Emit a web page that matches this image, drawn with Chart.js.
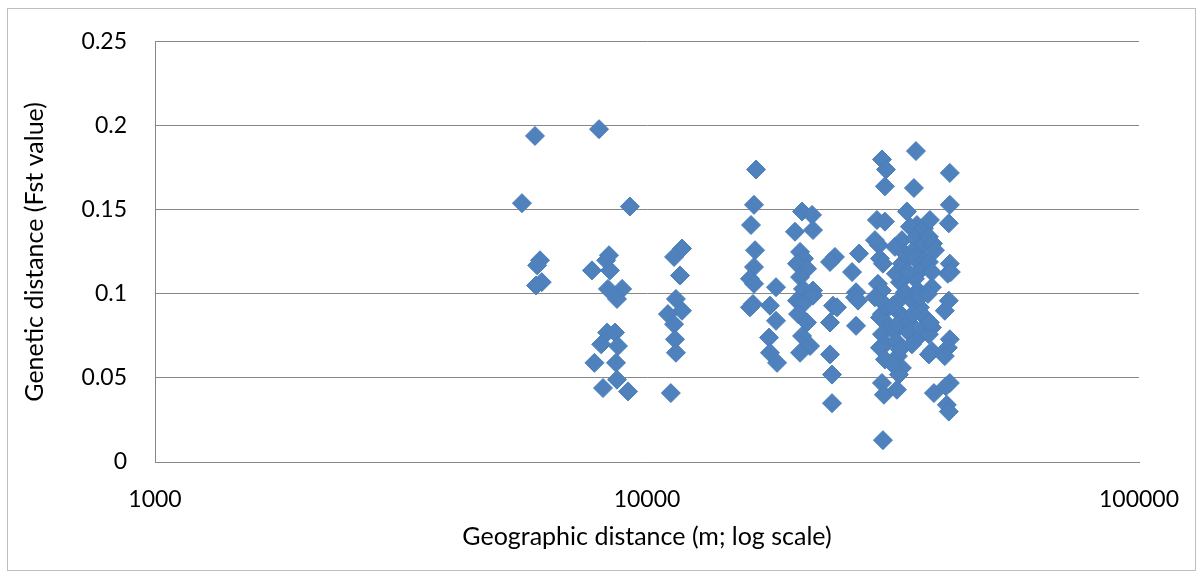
<!DOCTYPE html>
<html>
<head>
<meta charset="utf-8">
<script src="https://cdn.jsdelivr.net/npm/chart.js@4/dist/chart.umd.min.js"></script>
<style>
  html, body { margin: 0; padding: 0; background: #ffffff; }
  canvas { display: block; }
</style>
</head>
<body>
<canvas id="chart" width="1204" height="579"></canvas>
<script>
// Pairwise comparisons: [geographic distance (m), Fst], grouped by distance band
const band5k = [[5570,0.154],[5920,0.194],[6060,0.120],[5980,0.117],[6110,0.107],[5950,0.105]];
const band8k = [[7990,0.198],[9230,0.152],[8370,0.123],[8260,0.120],[7730,0.114],[8410,0.114],
  [8330,0.103],[8900,0.103],[8690,0.097],[8300,0.077],[8610,0.077],[8070,0.070],[8730,0.069],
  [7820,0.059],[8650,0.059],[8690,0.049],[8140,0.044],[9150,0.042]];
const band11k = [[11780,0.127],[11350,0.122],[11670,0.111],[11450,0.097],[11780,0.090],[11030,0.088],
  [11350,0.082],[11400,0.073],[11450,0.065],[11180,0.041]];
const band17k = [[16660,0.174],[16500,0.153],[16270,0.141],[16580,0.126],[16500,0.116],[16190,0.109],
  [16500,0.106],[16190,0.092],[16420,0.094],[18290,0.104],[17780,0.093],[18290,0.084],[17700,0.074],
  [17780,0.065],[18380,0.059]];
const band21k = [[20660,0.149],[21650,0.147],[19990,0.137],[21750,0.138],[20470,0.125],[20850,0.121],
  [20180,0.118],[21150,0.115],[20470,0.110],[20750,0.103],[21750,0.102],[20180,0.096],[21750,0.099],
  [20750,0.094],[20280,0.088],[21150,0.083],[20660,0.075],[21450,0.069],[20470,0.065]];
const band24k = [[24100,0.122],[23550,0.119],[23880,0.093],[24330,0.092],[23550,0.083],[23550,0.064],
  [23770,0.052],[23770,0.035]];
const band27k = [[26980,0.124],[26110,0.113],[26600,0.101],[26480,0.098],[26850,0.096],[26600,0.081]];
const band30k = [[30030,0.180],[30600,0.174],[30450,0.164],[29330,0.144],[30450,0.143],[29610,0.129],
  [29060,0.132],[29750,0.121],[30170,0.118],[29470,0.106],[30030,0.102],[29060,0.098],[30030,0.088],
  [31030,0.081],[30030,0.076],[30450,0.070],[29750,0.068],[30450,0.061],[30030,0.047],[30310,0.040],
  [30170,0.013],[29750,0.086],[30600,0.093]];
const band32k = [[32970,0.132],[31910,0.128],[32970,0.118],[32670,0.107],[32060,0.112],[32970,0.098],
  [32510,0.089],[31910,0.078],[32360,0.063],[32970,0.056],[32510,0.052],[32210,0.043],[33440,0.101],
  [31610,0.093],[33130,0.085],[32060,0.072],[32670,0.067],[33440,0.124],[32360,0.082],[31610,0.058]];
const band35k = [[35210,0.185],[34880,0.163],[33750,0.149],[35370,0.141],[34230,0.140],[36550,0.139],
  [35040,0.133],[35870,0.128],[34550,0.125],[35040,0.121],[36210,0.115],[35040,0.109],[35540,0.102],
  [34550,0.096],[35870,0.092],[36720,0.086],[34070,0.083],[34070,0.077],[35540,0.074],[34710,0.088],
  [36210,0.079],[34550,0.070],[35870,0.098],[33910,0.113],[36720,0.120]];
const band38k = [[37590,0.144],[37410,0.134],[38120,0.130],[37410,0.119],[37940,0.113],[37940,0.104],
  [37240,0.100],[37940,0.080],[37410,0.076],[37940,0.066],[37410,0.064],[38300,0.041],[38480,0.126],
  [37590,0.083]];
const band41k = [[41260,0.172],[41260,0.153],[41060,0.142],[41260,0.118],[40870,0.112],[41060,0.096],
  [40300,0.090],[41260,0.073],[40870,0.068],[40300,0.063],[41260,0.047],[40490,0.045],[40680,0.034],
  [41060,0.030],[41450,0.113]];

const distanceTicks = [1000, 10000, 100000];
const xTitle = 'Geographic distance (m; log scale)';
const yTitle = 'Genetic distance (Fst value)';

const allPairs = [].concat(band5k, band8k, band11k, band17k, band21k, band24k, band27k,
  band30k, band32k, band35k, band38k, band41k);
const points = allPairs.map(([d, f]) => ({ x: d, y: f }));

const TICK_FONT = { family: 'Lato, "Open Sans", sans-serif', size: 23 };
const TITLE_FONT = { family: 'Lato, "Open Sans", sans-serif', size: 25 };
const AXIS_GREY = '#878787';

// White page with a thin outer frame around the whole chart
const outerFrame = {
  id: 'outerFrame',
  beforeDraw(chart) {
    const ctx = chart.ctx;
    ctx.save();
    ctx.fillStyle = '#ffffff';
    ctx.fillRect(0, 0, chart.width, chart.height);
    ctx.strokeStyle = '#bfbfbf';
    ctx.lineWidth = 1;
    ctx.strokeRect(7.5, 8.5, 1188, 562);
    ctx.restore();
  }
};

new Chart(document.getElementById('chart'), {
  type: 'scatter',
  data: {
    datasets: [{
      data: points,
      pointStyle: 'rectRot',
      pointRadius: 9.5,
      backgroundColor: '#4F81BD',
      borderColor: '#4A7EBB',
      borderWidth: 1
    }]
  },
  options: {
    responsive: false,
    animation: false,
    events: [],
    layout: { padding: { left: 0, top: 38, right: 65, bottom: 0 } },
    plugins: { legend: { display: false }, tooltip: { enabled: false } },
    scales: {
      x: {
        type: 'logarithmic',
        min: 1000,
        max: 100000,
        afterBuildTicks(scale) { scale.ticks = distanceTicks.map(v => ({ value: v })); },
        afterFit(scale) { scale.height = 117; },
        grid: { display: false, drawTicks: false },
        border: { display: true, color: AXIS_GREY, width: 1 },
        ticks: {
          padding: 24, maxRotation: 0, autoSkip: false, color: '#000000', font: TICK_FONT,
          callback: (v) => String(v)
        },
        title: { display: true, text: xTitle, color: '#000000', font: TITLE_FONT, padding: { top: 0, bottom: 27 } }
      },
      y: {
        min: 0,
        max: 0.25,
        afterFit(scale) { scale.width = 155; },
        grid: { color: AXIS_GREY, lineWidth: 1, drawTicks: false },
        border: { display: true, color: AXIS_GREY, width: 1 },
        ticks: {
          stepSize: 0.05, padding: 28, color: '#000000', font: TICK_FONT,
          callback: (v) => String(Number(v.toFixed(2)))
        },
        title: { display: true, text: yTitle, color: '#000000', font: TITLE_FONT, padding: { top: 20, bottom: 0 } }
      }
    }
  },
  plugins: [outerFrame]
});
</script>
</body>
</html>
